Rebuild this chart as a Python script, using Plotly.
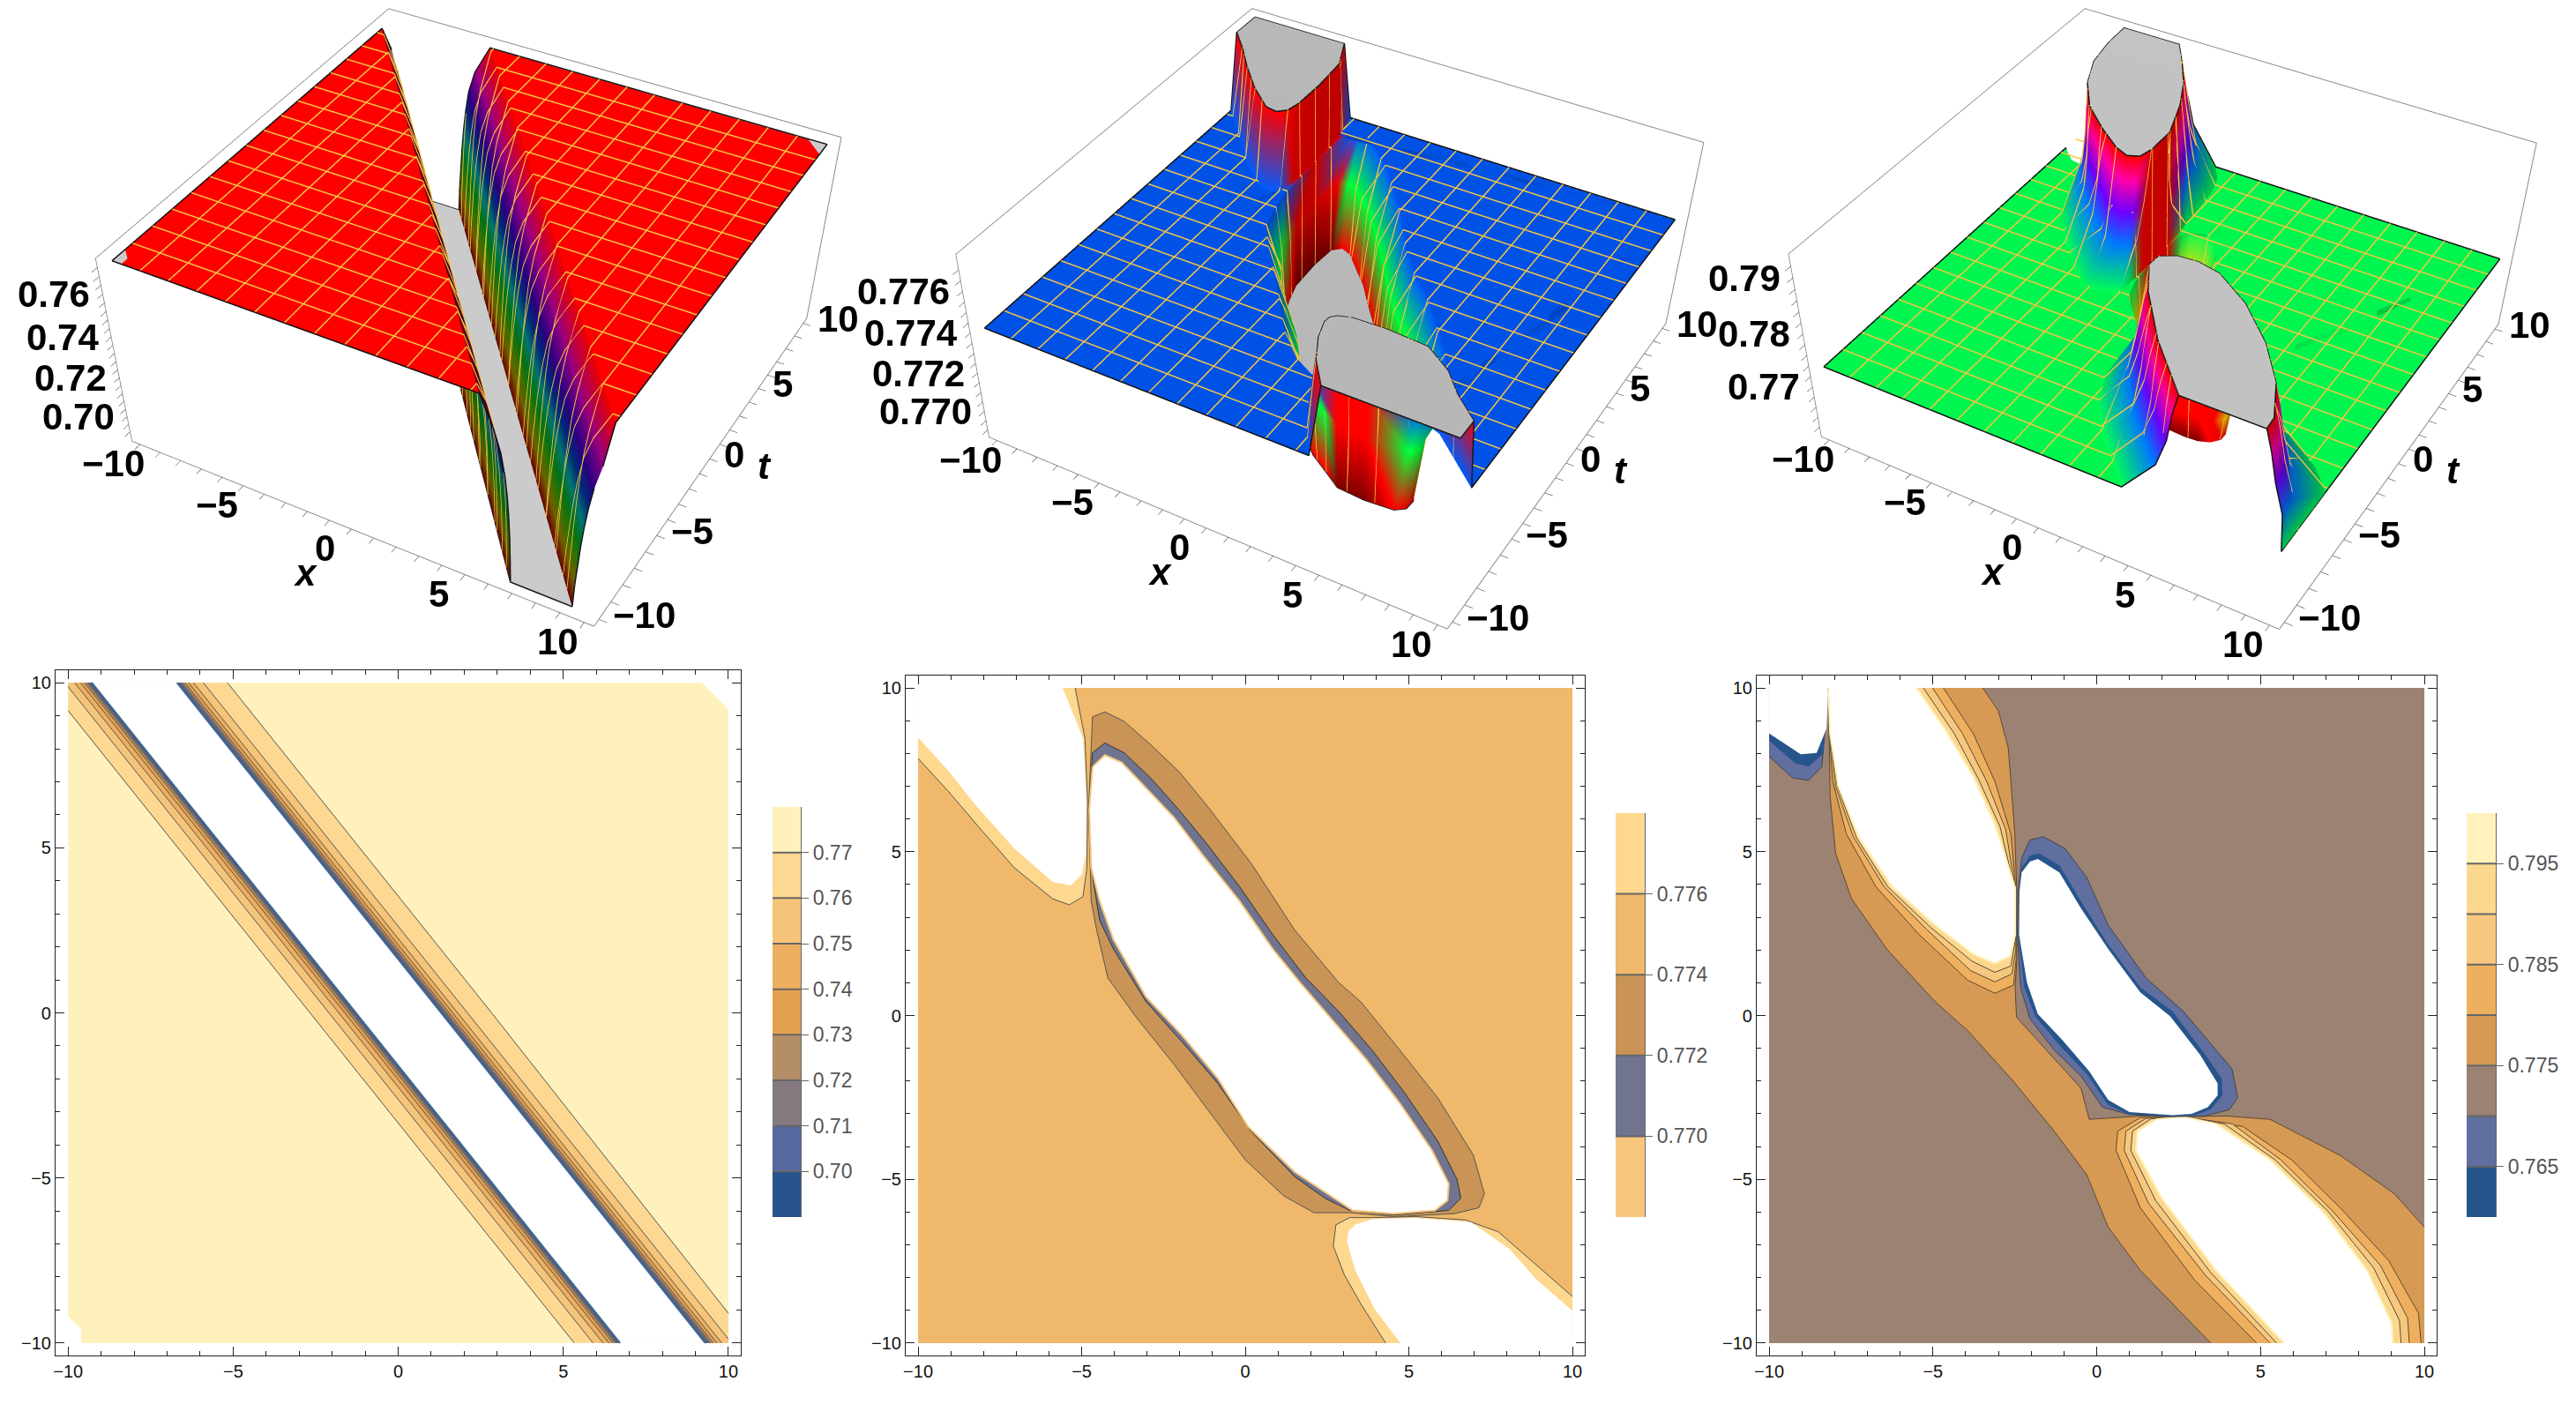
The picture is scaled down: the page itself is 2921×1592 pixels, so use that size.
import colorsys
import plotly.graph_objects as go

# ---- frame values shared by all panels
frame_ticks = [-10, -5, 0, 5, 10]
box_ticks = list(range(-10, 11))
box_labels = {-10: '\u221210', -5: '\u22125', 0: '0', 5: '5', 10: '10'}
mesh_lines = [-8.75, -7.5, -6.25, -5, -3.75, -2.5, -1.25, 0, 1.25, 2.5, 3.75, 5, 6.25, 7.5, 8.75]

# ---- panel 1 / 4: contour lines of the two straight bands, levels 0.77 ... 0.70 and clipped edge
p1_levels = [0.77, 0.76, 0.75, 0.74, 0.73, 0.72, 0.71, 0.70]
p1_colors = ['#fdd892', '#f6c478', '#edb060', '#e4a14d', '#b48e66', '#847a80', '#5669a0', '#27548c']
p1_outline = [(-10, 9.2), (-10, 10), (9.2, 10), (10, 9.2), (10, -10), (-9.6, -10), (-9.6, -9.6), (-10, -9.2)]
p1_band_a = [
    [(-10, 9.16), (-2.67, 0), (5.33, -10)],
    [(-10, 9.88), (-2.10, 0), (5.90, -10)],
    [(-9.80, 10), (-1.80, 0), (6.20, -10)],
    [(-9.62, 10), (-1.62, 0), (6.38, -10)],
    [(-9.50, 10), (-1.50, 0), (6.50, -10)],
    [(-9.42, 10), (-1.42, 0), (6.58, -10)],
    [(-9.36, 10), (-1.36, 0), (6.64, -10)],
    [(-9.32, 10), (-1.32, 0), (6.68, -10)],
]
p1_edge_a = [(-9.28, 10), (-1.28, 0), (6.72, -10)]
p1_band_b = [
    [(-5.17, 10), (2.83, 0), (10, -9.1)],
    [(-5.90, 10), (2.10, 0), (10, -9.88)],
    [(-6.20, 10), (1.80, 0), (9.80, -10)],
    [(-6.35, 10), (1.65, 0), (9.65, -10)],
    [(-6.46, 10), (1.54, 0), (9.54, -10)],
    [(-6.54, 10), (1.46, 0), (9.46, -10)],
    [(-6.60, 10), (1.40, 0), (9.40, -10)],
    [(-6.66, 10), (1.34, 0), (9.34, -10)],
]
p1_edge_b = [(-6.7, 10), (1.3, 0), (9.3, -10)]
p1_corner_l = [(-10, -10), (-9.6, -10), (-9.6, -9.6), (-10, -9.2)]
p1_corner_r = [(10, 10), (9.2, 10), (10, 9.2)]
p1_plateau, p1_floor, p1_top = 0.7735, 0.688, 0.7735

# ---- panel 2 / 5
p2_tl_line = [(-10, 7.85), (-9.08, 6.85), (-8.15, 5.76), (-7.06, 4.51), (-5.88, 3.56), (-5.38, 3.38),
              (-4.96, 3.63), (-4.84, 4.5), (-4.82, 6.5), (-4.9, 8.46), (-5.2, 10)]
p2_tl_edge = [(-10, 8.49), (-9.1, 7.5), (-8.24, 6.42), (-7.06, 5.1), (-5.88, 4.07), (-5.34, 3.97),
              (-5.0, 4.3), (-4.87, 4.95), (-4.85, 6.6), (-4.96, 8.46), (-5.58, 10)]
p2_br_line = [(10, -8.58), (8.91, -7.63), (7.73, -6.6), (6.72, -6.24), (5.21, -6.14), (3.87, -6.17),
              (3.19, -6.17), (2.77, -6.39), (2.69, -7.04), (3.03, -7.92), (3.53, -8.8), (4.29, -10)]
p2_br_edge = [(10, -9.02), (8.91, -8.07), (8.07, -7.12), (6.89, -6.31), (5.21, -6.18), (3.87, -6.22),
              (3.36, -6.39), (3.15, -6.6), (3.11, -6.9), (3.36, -7.78), (3.95, -8.95), (4.74, -10)]
p2_lens_774 = [(-4.67, 9.12), (-4.29, 9.27), (-3.70, 8.98), (-2.86, 8.24), (-2.02, 7.44), (-1.18, 6.42),
               (0.17, 4.66), (1.51, 2.61), (2.86, 1.0), (3.53, 0.42), (4.54, -0.83), (5.88, -2.51),
               (6.97, -4.26), (7.31, -5.44), (7.14, -5.87), (6.39, -6.05), (4.54, -6.14), (3.19, -6.02),
               (2.10, -6.02), (1.18, -5.51), (0, -4.41), (-1.09, -2.95), (-2.18, -1.49), (-3.36, -0.02),
               (-4.2, 1.15), (-4.54, 2.6), (-4.71, 3.49), (-4.79, 6.27)]
p2_lens_772 = [(-4.67, 8.02), (-4.29, 8.32), (-3.70, 8.02), (-2.86, 7.22), (-2.02, 6.27), (-1.18, 5.25),
               (-0.17, 3.93), (0.84, 2.47), (1.85, 1.15), (2.86, 0.12), (3.87, -1.05), (4.87, -2.36),
               (5.88, -3.83), (6.47, -5.0), (6.59, -5.58), (6.22, -5.95), (4.54, -6.09), (3.19, -5.95),
               (2.44, -5.58), (1.51, -4.92), (0.17, -3.53), (-0.84, -2.07), (-1.85, -0.9), (-3.03, 0.42),
               (-4.03, 2.03), (-4.45, 2.9), (-4.71, 4.51), (-4.78, 6.27)]
p2_lens_edge = [(-4.67, 7.59), (-4.29, 7.95), (-3.78, 7.73), (-3.03, 6.93), (-2.18, 6.05), (-1.34, 4.95),
                (-0.17, 3.49), (0.84, 2.03), (1.68, 1.0), (2.69, -0.17), (3.70, -1.34), (4.71, -2.66),
                (5.71, -4.12), (6.22, -5.14), (6.18, -5.65), (5.8, -5.95), (4.54, -6.05), (3.28, -5.95),
                (2.52, -5.44), (1.51, -4.78), (0.08, -3.39), (-0.84, -1.92), (-1.93, -0.61), (-3.03, 0.56),
                (-4.03, 2.32), (-4.45, 3.49), (-4.71, 4.51), (-4.77, 6.27)]
p2_plateau, p2_floor, p2_top, p2_mid = 0.7741, 0.7687, 0.7776, 0.772
p2_red_walls = [(-5.0, -4.6, 4.4, 8.5), (3.0, 5.6, -6.45, -5.9)]

# ---- panel 3 / 6
p3_corner_770 = [(-10, 7.91), (-9.29, 7.26), (-8.8, 7.18), (-8.39, 7.59), (-8.19, 10)]
p3_corner_765 = [(-10, 8.39), (-9.2, 7.7), (-8.8, 7.6), (-8.35, 8.0), (-8.19, 10)]
p3_corner_edge = [(-10, 8.61), (-9.04, 7.98), (-8.55, 8.02), (-8.25, 8.76), (-8.19, 10)]
p3_tl_775 = [(-3.48, 10), (-3.0, 9.3), (-2.7, 8.17), (-2.5, 5.54), (-2.44, 3.78), (-2.44, 1.73), (-2.49, 0.85),
             (-2.45, -0.05), (-3.94, -0.46), (-4.93, 0.42), (-6.41, 2.03), (-7.48, 3.56), (-7.97, 4.95),
             (-8.14, 6.71), (-8.19, 10)]
p3_tl_780 = [(-4.68, 10), (-3.77, 8.61), (-3.11, 7.15), (-2.62, 5.54), (-2.46, 3.78), (-2.46, 1.73), (-2.54, 0.93),
             (-3.11, 0.68), (-3.94, 1.08), (-5.42, 2.47), (-6.74, 3.93), (-7.64, 5.54), (-8.06, 7.15),
             (-8.17, 8.76), (-8.19, 10)]
p3_tl_785 = [(-5.01, 10), (-4.1, 8.61), (-3.36, 7.15), (-2.78, 5.68), (-2.47, 3.78), (-2.47, 2.03), (-2.59, 1.27),
             (-3.11, 1.03), (-3.85, 1.37), (-5.17, 2.61), (-6.49, 3.93), (-7.43, 5.46), (-7.97, 7.0),
             (-8.15, 8.68), (-8.19, 10)]
p3_tl_790 = [(-5.29, 10), (-4.35, 8.61), (-3.61, 7.22), (-2.95, 5.76), (-2.48, 3.78), (-2.48, 2.32), (-2.62, 1.51),
             (-3.11, 1.32), (-3.81, 1.66), (-5.06, 2.68), (-6.38, 3.93), (-7.33, 5.42), (-7.92, 7.0),
             (-8.14, 8.64), (-8.19, 10)]
p3_tl_edge = [(-5.5, 10), (-4.6, 8.68), (-3.77, 7.29), (-3.11, 5.83), (-2.49, 3.9), (-2.49, 2.47), (-2.65, 1.81),
              (-3.11, 1.59), (-3.77, 1.88), (-4.93, 2.76), (-6.24, 3.93), (-7.23, 5.39), (-7.89, 7.0),
              (-8.14, 8.61), (-8.19, 10)]
p3_br_775 = [(3.48, -10), (1.33, -7.78), (0.35, -6.46), (-0.31, -4.85), (-0.23, -3.17), (1.33, -3.07),
             (2.82, -3.09), (3.97, -3.07), (5.29, -3.17), (7.43, -4.27), (9.08, -5.44), (10, -6.46), (10, -10)]
p3_br_780 = [(4.88, -10), (2.98, -8.07), (1.33, -5.87), (0.59, -4.12), (0.64, -3.53), (1.33, -3.12),
             (2.65, -3.09), (4.46, -3.39), (5.95, -4.41), (7.43, -5.87), (8.91, -7.48), (9.82, -9.09), (9.9, -10)]
p3_br_785 = [(5.29, -10), (3.31, -7.92), (1.58, -5.73), (0.84, -4.12), (0.89, -3.53), (1.5, -3.14),
             (2.65, -3.09), (4.14, -3.31), (5.62, -4.41), (7.18, -5.95), (8.66, -7.63), (9.49, -9.24), (9.54, -10)]
p3_br_790 = [(5.49, -10), (3.48, -7.85), (1.8, -5.65), (1.04, -4.12), (1.09, -3.53), (1.66, -3.15),
             (2.65, -3.09), (3.89, -3.31), (5.45, -4.41), (7.07, -5.99), (8.45, -7.7), (9.24, -9.31), (9.29, -10)]
p3_br_edge = [(5.72, -10), (3.64, -7.78), (1.99, -5.58), (1.2, -4.12), (1.25, -3.53), (1.83, -3.17),
              (2.65, -3.09), (3.64, -3.31), (5.29, -4.41), (6.93, -6.02), (8.25, -7.78), (9.0, -9.39), (9.04, -10)]
p3_saddle_right = [(-0.48, -2.22)]
p3_saddle_left = [(-1.3, -3.53), (-2.62, -1.92)]
p3_lens_770 = [(-2.29, 4.81), (-2.04, 5.36), (-1.63, 5.46), (-0.97, 5.1), (-0.31, 4.22), (0.35, 2.76), (1.5, 1.15),
               (2.65, 0.12), (3.64, -1.05), (4.13, -1.63), (4.3, -2.51), (4.05, -2.87), (3.31, -3.07), (2.16, -3.09),
               (1.0, -3.02), (0.18, -2.8), (-0.48, -1.85), (-1.3, -1.05), (-2.04, -0.1), (-2.32, 0.85),
               (-2.42, 2.47), (-2.40, 3.78)]
p3_lens_765 = [(-2.29, 4.51), (-2.04, 4.88), (-1.76, 4.95), (-1.14, 4.59), (-0.48, 3.49), (0.35, 2.17), (1.33, 0.86),
               (2.32, 0.12), (3.31, -1.19), (3.81, -1.92), (3.84, -2.44), (3.48, -2.87), (3.0, -3.04), (2.32, -3.07),
               (1.0, -3.02), (0.35, -2.73), (-0.31, -1.78), (-1.14, -0.9), (-1.88, -0.02), (-2.21, 0.85),
               (-2.40, 2.47), (-2.38, 3.78)]
p3_lens_edge = [(-2.29, 4.37), (-2.04, 4.7), (-1.8, 4.78), (-1.14, 4.37), (-0.48, 3.27), (0.35, 2.03), (1.33, 0.71),
                (2.24, -0.02), (3.15, -1.19), (3.69, -2.07), (3.69, -2.44), (3.39, -2.8), (2.9, -3.0), (2.32, -3.04),
                (1.0, -2.95), (0.35, -2.58), (-0.23, -1.7), (-1.05, -0.75), (-1.8, 0.05), (-2.13, 1.0),
                (-2.37, 2.47), (-2.36, 3.78)]
p3_plateau, p3_floor, p3_top = 0.7733, 0.7604, 0.7937
p3_red_walls = [(-2.7, -2.3, 1.7, 4.6), (1.0, 4.2, -3.35, -2.85)]

# ---- colour bars
bar4_edges = [0.69, 0.70, 0.71, 0.72, 0.73, 0.74, 0.75, 0.76, 0.77, 0.78]
bar4_colors = ['#27548c', '#5669a0', '#847a80', '#b48e66', '#e4a14d', '#edb060', '#f6c478', '#fdd892', '#fff1bb']
bar4_ticks = [0.70, 0.71, 0.72, 0.73, 0.74, 0.75, 0.76, 0.77]
bar4_text = ['0.70', '0.71', '0.72', '0.73', '0.74', '0.75', '0.76', '0.77']
bar5_edges = [0.768, 0.770, 0.772, 0.774, 0.776, 0.778]
bar5_colors = ['#f6c77c', '#70748f', '#c99455', '#efb86a', '#fed88f']
bar5_ticks = [0.770, 0.772, 0.774, 0.776]
bar5_text = ['0.770', '0.772', '0.774', '0.776']
bar6_edges = [0.76, 0.765, 0.77, 0.775, 0.78, 0.785, 0.79, 0.795, 0.80]
bar6_colors = ['#26558c', '#606fa0', '#9b8272', '#d69a55', '#eeb05f', '#f6c87f', '#fcd88e', '#fff2bd']
bar6_ticks = [0.765, 0.775, 0.785, 0.795]
bar6_lines = [0.765, 0.77, 0.775, 0.78, 0.785, 0.79, 0.795]
bar6_text = ['0.765', '0.775', '0.785', '0.795']

# ---- 3D axis ticks
z1_ticks = [0.692, 0.696, 0.70, 0.704, 0.708, 0.712, 0.716, 0.72, 0.724, 0.728, 0.732, 0.736, 0.74, 0.744, 0.748, 0.752, 0.756, 0.76, 0.764, 0.768, 0.772]
z1_major = {0.70: '0.70', 0.72: '0.72', 0.74: '0.74', 0.76: '0.76'}
z2_ticks = [0.769, 0.7695, 0.77, 0.7705, 0.771, 0.7715, 0.772, 0.7725, 0.773, 0.7735, 0.774, 0.7745, 0.775, 0.7755, 0.776, 0.7765, 0.777]
z2_major = {0.77: '0.770', 0.772: '0.772', 0.774: '0.774', 0.776: '0.776'}
z3_ticks = [0.762, 0.764, 0.766, 0.768, 0.77, 0.772, 0.774, 0.776, 0.778, 0.78, 0.782, 0.784, 0.786, 0.788, 0.79, 0.792]
z3_major = {0.77: '0.77', 0.78: '0.78', 0.79: '0.79'}

WIN_W, WIN_H, PAD = 2921, 1592, 8
PLOT_W, PLOT_H = WIN_W - 2 * PAD, WIN_H - 2 * PAD
GREY = '#cbcbcb'
FONT = 'Liberation Sans'


def px_x(v):
    return min(1, max(0, (v - PAD) / PLOT_W))


def px_y(v):
    return min(1, max(0, 1 - (v - PAD) / PLOT_H))


def hue(z, lo, hi, dim=1):
    f = max(0.0, min(1.0, (z - lo) / (hi - lo)))
    r, g, b = colorsys.hsv_to_rgb(f, 1, 1 if f > 0.93 else dim)
    return f'rgb({int(r * 255)},{int(g * 255)},{int(b * 255)})'


class Tin:
    # triangles collected for one Mesh3d, plus the lines that ride on it
    def __init__(self, lo, hi, red_walls=(), dim=1):
        self.x, self.y, self.z, self.c = [], [], [], []
        self.i, self.j, self.k = [], [], []
        self.lo, self.hi = lo, hi
        self.rings = []
        self.red_walls = red_walls
        self.dim = dim

    def vert(self, p, z, color=None):
        self.x.append(p[0])
        self.y.append(p[1])
        self.z.append(z)
        self.c.append(color or hue(z, self.lo, self.hi, self.dim))
        return len(self.x) - 1

    def wall_color(self, p, z):
        # the walls where a peak meets a hole are one tall polygon, red at both ends
        for x0, x1, t0, t1 in self.red_walls:
            if x0 <= p[0] <= x1 and t0 <= p[1] <= t1:
                return '#800000' if z == self.lo else '#ff0000'
        return None

    def tri(self, a, b, c):
        self.i.append(a)
        self.j.append(b)
        self.k.append(c)

    def strip(self, ra, za, rb, zb, closed=False):
        ia = [self.vert(p, za, self.wall_color(p, za)) for p in ra]
        ib = [self.vert(p, zb, self.wall_color(p, zb)) for p in rb]
        n = len(ra)
        for m in range(n if closed else n - 1):
            q = (m + 1) % n
            self.tri(ia[m], ia[q], ib[m])
            self.tri(ia[q], ib[q], ib[m])

    def fan(self, center, boundary, z, color=None):
        ic = self.vert(center, z, color)
        ib = [self.vert(p, z, color) for p in boundary]
        for m in range(len(ib) - 1):
            self.tri(ic, ib[m], ib[m + 1])

    def cap(self, boundary, z):
        cx = sum(p[0] for p in boundary) / len(boundary)
        cy = sum(p[1] for p in boundary) / len(boundary)
        self.fan((cx, cy), boundary + boundary[:1], z, GREY)

    def ring(self, pts, z, closed=False):
        self.rings.append((pts + pts[:1] if closed else pts, z))

    def cuts(self, c, axis):
        # points where x=c (or t=c) crosses the read contour rings, ordered along the line
        found = []
        for pts, z in self.rings:
            for a, b in zip(pts, pts[1:]):
                if (a[axis] - c) * (b[axis] - c) <= 0 and a[axis] != b[axis]:
                    w = (c - a[axis]) / (b[axis] - a[axis])
                    found.append((a[1 - axis] + w * (b[1 - axis] - a[1 - axis]), z))
        found.sort()
        return found

    def lines(self, plateau, caps, values):
        xs, ys, zs = [], [], []
        lift = (self.hi - self.lo) * 0.004
        for axis in (0, 1):
            for c in values:
                cut = self.cuts(c, axis)
                if not cut or cut[0][1] == plateau:
                    cut = [(-10, plateau)] + cut
                if cut[-1][1] == plateau:
                    cut = cut + [(10, plateau)]
                for m, (s, z) in enumerate(cut):
                    if m and cut[m - 1][1] == z and z in caps:
                        xs.append(None), ys.append(None), zs.append(None)
                    xs.append(c if axis == 0 else s)
                    ys.append(s if axis == 0 else c)
                    zs.append(z + lift)
                xs.append(None), ys.append(None), zs.append(None)
        return xs, ys, zs


def build_1():
    t = Tin(p1_floor, p1_top, dim=0.62)
    levels = [p1_plateau] + p1_levels[1:] + [p1_floor]
    for band, edge in ((p1_band_a, p1_edge_a), (p1_band_b, p1_edge_b)):
        rows = band + [edge]
        for m in range(len(rows) - 1):
            t.strip(rows[m], levels[m], rows[m + 1], levels[m + 1])
        for m in range(len(rows)):
            t.ring(rows[m], levels[m])
    t.fan((-10, -10), [(-10, -9.2)] + p1_band_a[0], p1_plateau)
    t.fan((10, 10), p1_band_b[0] + [(10, 9.2)], p1_plateau)
    floor = p1_edge_a + p1_edge_b[::-1]
    return t, [(floor, p1_floor, True), (p1_corner_l, p1_top + 0.0002, True), (p1_corner_r, p1_top + 0.0002, True)], (p1_floor,)


def build_2():
    t = Tin(p2_floor, p2_top, p2_red_walls)
    pl = p2_plateau
    t.strip(p2_tl_line, pl, p2_tl_edge, p2_top)
    t.strip(p2_br_line, pl, p2_br_edge, p2_top)
    t.strip(p2_lens_774, pl, p2_lens_772, p2_mid, closed=True)
    t.strip(p2_lens_772, p2_mid, p2_lens_edge, p2_floor, closed=True)
    t.fan((10, 10), p2_tl_line[:8:-1] + p2_lens_774[:16] + p2_br_line[3::-1], pl)
    t.fan((-10, -10), p2_tl_line[:8] + p2_lens_774[26:16:-1] + p2_br_line[7:], pl)
    # slivers where the read contours do not quite touch
    t.strip([p2_tl_line[9], p2_tl_line[8], p2_tl_line[7]], pl, [p2_lens_774[0], p2_lens_774[27], p2_lens_774[26]], pl)
    t.strip([p2_lens_774[15], p2_lens_774[16], p2_lens_774[17]], pl, [p2_br_line[3], p2_br_line[4], p2_br_line[6]], pl)
    for pts, z, closed in ((p2_tl_line, pl, False), (p2_tl_edge, p2_top, False), (p2_br_line, pl, False),
                           (p2_br_edge, p2_top, False), (p2_lens_774, pl, True), (p2_lens_772, p2_mid, True),
                           (p2_lens_edge, p2_floor, True)):
        t.ring(pts, z, closed)
    caps = [(p2_tl_edge + [(-10, 10)], p2_top, True), (p2_br_edge + [(10, -10)], p2_top, True),
            (p2_lens_edge, p2_floor, True)]
    return t, caps, (p2_top, p2_floor)


def build_3():
    t = Tin(p3_floor, p3_top, p3_red_walls)
    pl = p3_plateau
    tl = [(p3_tl_775, pl), (p3_tl_780, 0.78), (p3_tl_785, 0.785), (p3_tl_790, 0.79), (p3_tl_edge, p3_top)]
    br = [(p3_br_775, pl), (p3_br_780, 0.78), (p3_br_785, 0.785), (p3_br_790, 0.79), (p3_br_edge, p3_top)]
    for rows in (tl, br):
        for a, b in zip(rows, rows[1:]):
            t.strip(a[0], a[1], b[0], b[1])
        for r in rows:
            t.ring(r[0], r[1])
    low = [(p3_lens_770, pl), (p3_lens_765, 0.765), (p3_lens_edge, p3_floor)]
    for a, b in zip(low, low[1:]):
        t.strip(a[0], a[1], b[0], b[1], closed=True)
    for r in low:
        t.ring(r[0], r[1], True)
    t.strip(p3_corner_770, pl, p3_corner_765, 0.765)
    t.strip(p3_corner_765, 0.765, p3_corner_edge, p3_floor)
    t.ring(p3_corner_770, pl)
    t.ring(p3_corner_765, 0.765)
    t.ring(p3_corner_edge, p3_floor)
    t.fan((10, 10), p3_tl_775[:4] + p3_lens_770[:13] + p3_br_775[7:12], pl)
    t.fan((-10, -10), p3_corner_770 + p3_tl_775[13:7:-1] + p3_saddle_left[::-1] + p3_br_775[3::-1], pl)
    saddle = [p3_tl_775[7]] + p3_saddle_right + [p3_br_775[4], p3_br_775[3]] + p3_saddle_left + [p3_tl_775[8]]
    t.fan((-1.6, -2.3), saddle + saddle[:1], pl)
    t.strip([p3_tl_775[6], p3_tl_775[7], p3_saddle_right[0], p3_br_775[4], p3_br_775[5]], pl,
            [p3_lens_770[19], p3_lens_770[18], p3_lens_770[16], p3_lens_770[15], p3_lens_770[14]], pl)
    # slivers where the read contours do not quite touch
    t.strip(p3_tl_775[3:7], pl, [p3_lens_770[0], p3_lens_770[21], p3_lens_770[20], p3_lens_770[19]], pl)
    t.strip([p3_lens_770[14], p3_lens_770[13], p3_lens_770[12]], pl, p3_br_775[5:8], pl)
    # floors here sit fully hidden under the plateau, so they get no outline
    caps = [(p3_tl_edge, p3_top, True), (p3_br_edge, p3_top, True), (p3_lens_edge, p3_floor, False),
            (p3_corner_edge + [(-10, 10)], p3_floor, False)]
    return t, caps, (p3_top, p3_floor)


def add_surface(fig, built, scene, plateau, ambient, diffuse):
    t, caps, cap_levels = built
    for pts, z, outlined in caps:
        t.cap(pts, z)
    fig.add_trace(go.Mesh3d(x=t.x, y=t.y, z=t.z, i=t.i, j=t.j, k=t.k, vertexcolor=t.c, scene=scene, hoverinfo='skip',
                            flatshading=False, lighting=dict(ambient=ambient, diffuse=diffuse, specular=0, roughness=1, fresnel=0),
                            lightposition=dict(x=0, y=0, z=100000)))
    xs, ys, zs = t.lines(plateau, cap_levels, mesh_lines)
    fig.add_trace(go.Scatter3d(x=xs, y=ys, z=zs, mode='lines', line=dict(color='#f5c542', width=3), scene=scene, hoverinfo='skip'))
    bx, by, bz = t.lines(plateau, cap_levels, [-10, 10])
    for pts, z, outlined in caps:
        if z in cap_levels and outlined:
            for p in pts + pts[:1]:
                bx.append(p[0]), by.append(p[1]), bz.append(z)
            bx.append(None), by.append(None), bz.append(None)
    fig.add_trace(go.Scatter3d(x=bx, y=by, z=bz, mode='lines', line=dict(color='#111111', width=3), scene=scene, hoverinfo='skip'))


def scene_layout(dom, shift, z_range, z_ticks, z_major):
    common = dict(showbackground=False, showgrid=False, zeroline=False, showspikes=False, showline=True,
                  linecolor='#8a8a8a', linewidth=2, mirror=True, ticks='outside', ticklen=8, tickcolor='#222',
                  showticklabels=False, range=[-10.4, 10.4], tickmode='array', tickvals=box_ticks, title=dict(text=''))
    span = z_range[1] - z_range[0]
    z_low = z_range[0] - span * 0.012
    zax = dict(common, range=[z_low, z_range[1] + span * 0.012], tickvals=z_ticks)
    big = dict(family=FONT, size=42, color='black')
    notes = [dict(x=0, y=-10.4, z=z_low, text='<b><i>x</i></b>', showarrow=False, xshift=-52, yshift=-50, font=big),
             dict(x=10.4, y=0, z=z_low, text='<b><i>t</i></b>', showarrow=False, xshift=62, yshift=-8, font=big)]
    for v, label in box_labels.items():
        notes.append(dict(x=v, y=-10.4, z=z_low, text=f'<b>{label}</b>', showarrow=False, xshift=-30, yshift=-22, font=big))
        notes.append(dict(x=10.4, y=v, z=z_low, text=f'<b>{label}</b>', showarrow=False, xanchor='left', xshift=14, yshift=5, font=big))
    for v, label in z_major.items():
        notes.append(dict(x=-10.4, y=-10.4, z=v, text=f'<b>{label}</b>', showarrow=False, xanchor='right', xshift=-12, font=big))
    # the look-at point sits below the box so that it lands in the top row of the page
    return dict(domain=dict(x=[px_x(dom[0]), px_x(dom[1])], y=[0, 1]), xaxis=common, yaxis=common, zaxis=zax,
                aspectmode='manual', aspectratio=dict(x=1, y=1, z=0.42), annotations=notes,
                camera=dict(eye=dict(x=1.274, y=-2.352, z=1.96), center=dict(x=-0.879 * shift, y=-0.476 * shift, z=-1.228),
                            up=dict(x=0, y=0, z=1)))


def poly(fig, ax, pts, color):
    xs = [p[0] for p in pts] + [pts[0][0]]
    ys = [p[1] for p in pts] + [pts[0][1]]
    fig.add_trace(go.Scatter(x=xs, y=ys, mode='lines', fill='toself', fillcolor=color, hoverinfo='skip',
                             line=dict(color=color, width=0), xaxis=f'x{ax}', yaxis=f'y{ax}'))


def stroke(fig, ax, pts, color, width=1):
    fig.add_trace(go.Scatter(x=[p[0] for p in pts], y=[p[1] for p in pts], mode='lines', hoverinfo='skip',
                             line=dict(color=color, width=width), xaxis=f'x{ax}', yaxis=f'y{ax}'))


def frame_axes(layout, ax, box):
    x0, x1, y0, y1 = box
    common = dict(range=[-10.38, 10.38], tickmode='array', tickvals=frame_ticks, ticks='inside', ticklen=10,
                  tickcolor='#222', tickwidth=1, showline=True, linecolor='#222', linewidth=1, mirror='ticks',
                  showgrid=False, zeroline=False, tickfont=dict(family=FONT, size=20, color='#111'),
                  minor=dict(tickmode='array', tickvals=box_ticks, ticks='inside', ticklen=5, tickcolor='#222', tickwidth=1))
    layout[f'xaxis{ax}'] = dict(common, domain=[px_x(x0), px_x(x1)], anchor=f'y{ax}')
    layout[f'yaxis{ax}'] = dict(common, domain=[px_y(y1), px_y(y0)], anchor=f'x{ax}')


def colorbar(fig, layout, ax, box, edges, colors, ticks, text, lines=None):
    x0, x1, y0, y1 = box
    for lo, hi, c in zip(edges, edges[1:], colors):
        fig.add_trace(go.Bar(x=[0.5], y=[hi - lo], base=[lo], width=[1], marker=dict(color=c, line=dict(width=0)),
                             xaxis=f'x{ax}', yaxis=f'y{ax}', hoverinfo='skip'))
    xs, ys = [], []
    for v in lines or ticks:
        xs += [0, 1, None]
        ys += [v, v, None]
    fig.add_trace(go.Scatter(x=xs, y=ys, mode='lines', line=dict(color='#666', width=2), xaxis=f'x{ax}', yaxis=f'y{ax}', hoverinfo='skip'))
    layout[f'xaxis{ax}'] = dict(domain=[px_x(x0), px_x(x1)], range=[0, 1], visible=False, anchor=f'y{ax}')
    layout[f'yaxis{ax}'] = dict(domain=[px_y(y1), px_y(y0)], range=[edges[0], edges[-1]], side='right', anchor=f'x{ax}',
                                tickmode='array', tickvals=ticks, ticktext=text, ticks='outside', ticklen=8, tickcolor='#666',
                                showline=True, linecolor='#666', linewidth=1, showgrid=False, zeroline=False,
                                tickfont=dict(family=FONT, size=23, color='#555'))


fig = go.Figure()
layout = dict(width=PLOT_W, height=PLOT_H, margin=dict(l=0, r=0, t=0, b=0), paper_bgcolor='white', plot_bgcolor='white',
              showlegend=False, barmode='overlay', bargap=0)

# top row
add_surface(fig, build_1(), 'scene', p1_plateau, 0.4, 0.87)
add_surface(fig, build_2(), 'scene2', p2_plateau, 0.75, 0.36)
add_surface(fig, build_3(), 'scene3', p3_plateau, 0.75, 0.36)
layout['scene'] = scene_layout((0, 1040), 0.035, [p1_floor, 0.775], z1_ticks, z1_major)
layout['scene2'] = scene_layout((940, 1990), 0.092, [p2_floor, p2_top], z2_ticks, z2_major)
layout['scene3'] = scene_layout((1900, 2921), 0.098, [p3_floor, p3_top], z3_ticks, z3_major)

# panel 4
poly(fig, 7, p1_outline, '#fff1bb')
for band, edge, corner in ((p1_band_a, p1_edge_a, (-10, 10)), (p1_band_b, p1_edge_b, (10, -10))):
    for row, color in zip(band, p1_colors):
        if corner[0] < 0:
            poly(fig, 7, row + edge[::-1] + [corner], color)
        else:
            poly(fig, 7, row + [corner] + edge[::-1], color)
    for row in band:
        stroke(fig, 7, row, '#555')
poly(fig, 7, p1_edge_a + p1_edge_b[::-1], 'white')
stroke(fig, 7, p1_edge_a, '#3f679c', 2)
stroke(fig, 7, p1_edge_b, '#3f679c', 2)
frame_axes(layout, 7, (60, 838, 760, 1537))
colorbar(fig, layout, 2, (874, 906, 915, 1380), bar4_edges, bar4_colors, bar4_ticks, bar4_text)

# panel 5
poly(fig, 3, [(-10, 10), (10, 10), (10, -10), (-10, -10)], '#efb86a')
poly(fig, 3, p2_tl_line + [(-10, 10)], '#fed88f')
stroke(fig, 3, p2_tl_line, '#555')
poly(fig, 3, p2_tl_edge + [(-10, 10)], 'white')
poly(fig, 3, p2_br_line + [(10, -10)], '#fed88f')
stroke(fig, 3, p2_br_line, '#555')
poly(fig, 3, p2_br_edge + [(10, -10)], 'white')
poly(fig, 3, p2_lens_774, '#c99455')
stroke(fig, 3, p2_lens_774 + p2_lens_774[:1], '#555')
poly(fig, 3, p2_lens_772, '#70748f')
stroke(fig, 3, p2_lens_772 + p2_lens_772[:1], '#333')
poly(fig, 3, p2_lens_edge, 'white')
stroke(fig, 3, p2_lens_edge + p2_lens_edge[:1], '#f6c77c', 2)
frame_axes(layout, 3, (1025, 1796, 766, 1537))
colorbar(fig, layout, 4, (1831, 1864, 922, 1380), bar5_edges, bar5_colors, bar5_ticks, bar5_text)

# panel 6
poly(fig, 5, [(-10, 10), (10, 10), (10, -10), (-10, -10)], '#9b8272')
poly(fig, 5, p3_corner_770 + [(-10, 10)], '#606fa0')
stroke(fig, 5, p3_corner_770, '#444')
poly(fig, 5, p3_corner_765 + [(-10, 10)], '#26558c')
poly(fig, 5, p3_corner_edge + [(-10, 10)], 'white')
orange = (p3_tl_775[:8] + p3_saddle_right + p3_br_775[4:] + p3_br_775[:4] + p3_saddle_left + p3_tl_775[8:])
poly(fig, 5, orange, '#d69a55')
stroke(fig, 5, p3_tl_775[:8] + p3_saddle_right + p3_br_775[4:12], '#5e4a33')
stroke(fig, 5, p3_br_775[:4] + p3_saddle_left + p3_tl_775[8:], '#5e4a33')
for rows in ((p3_tl_780, p3_tl_785, p3_tl_790), (p3_br_780, p3_br_785, p3_br_790)):
    for row, color in zip(rows, ('#eeb05f', '#f6c87f', '#fcd88e')):
        poly(fig, 5, row, color)
        stroke(fig, 5, row, '#5e4a33')
poly(fig, 5, p3_tl_edge, 'white')
stroke(fig, 5, p3_tl_edge, '#fff2bd', 2)
poly(fig, 5, p3_br_edge, 'white')
stroke(fig, 5, p3_br_edge, '#fff2bd', 2)
poly(fig, 5, p3_lens_770, '#606fa0')
stroke(fig, 5, p3_lens_770 + p3_lens_770[:1], '#444')
poly(fig, 5, p3_lens_765, '#26558c')
poly(fig, 5, p3_lens_edge, 'white')
frame_axes(layout, 5, (1991, 2763, 766, 1537))
colorbar(fig, layout, 6, (2797, 2830, 922, 1380), bar6_edges, bar6_colors, bar6_ticks, bar6_text, bar6_lines)

fig.update_layout(**layout)
fig.write_html("out.html")
